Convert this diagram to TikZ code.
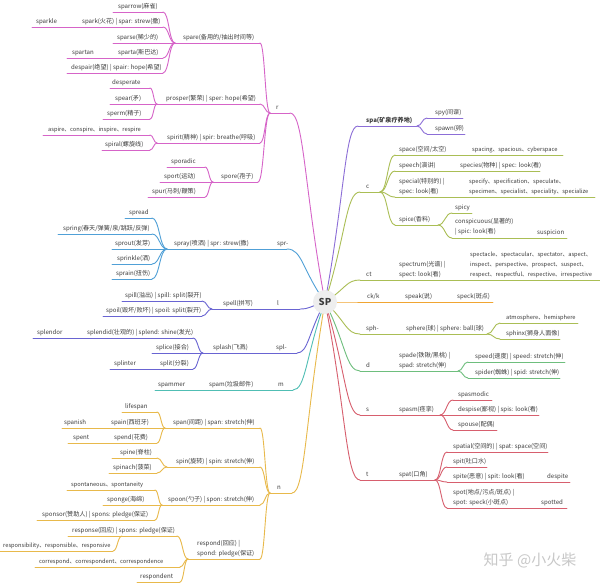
\documentclass[tikz,border=0pt]{standalone}
\usepackage{fontspec}
\setmainfont{Noto Sans CJK SC}
\usetikzlibrary{calc,backgrounds}
\definecolor{pinkc}{RGB}{214,100,200}
\definecolor{purc}{RGB}{140,110,215}
\definecolor{olc}{RGB}{170,190,85}
\definecolor{orc}{RGB}{240,165,50}
\definecolor{grc}{RGB}{110,190,125}
\definecolor{redc}{RGB}{215,95,110}
\definecolor{bluc}{RGB}{80,160,215}
\definecolor{indc}{RGB}{105,100,210}
\definecolor{tealc}{RGB}{80,190,180}
\definecolor{goldc}{RGB}{232,185,75}
\definecolor{txtc}{RGB}{60,60,60}
\definecolor{spfill}{RGB}{238,238,238}
\definecolor{wmc}{RGB}{200,200,200}
\tikzset{
  txt/.style={inner sep=0pt, text=txtc, font=\fontsize{6.1}{10}\selectfont},
  lst/.style={font=\fontsize{5.7}{10}\selectfont},
  mtxt/.style={txt, align=left},
  ln/.style={line width=0.9pt, line cap=round},
  fan/.style={to path={let \p1=(\tikztostart),\p2=(\tikztotarget) in
     .. controls ({0.5*\x1+0.5*\x2},\y1) and ({0.5*\x1+0.5*\x2},\y2) .. (\tikztotarget)}},
  root/.style={to path={let \p1=(\tikztostart),\p2=(\tikztotarget) in
     .. controls ({\x1+0.4*(\x2-\x1)},\y1) and ({\x1+0.4*(\x2-\x1)},{\y1+0.4*(\y2-\y1)}) .. (\tikztotarget)}},
}
% [style], name, x1, x2, y(line), text x, text
\newcommand\nd[7][]{%
  \coordinate (#2-l) at (#3,#5);
  \coordinate (#2-r) at (#4,#5);
  \node[txt, #1, anchor=base west] (#2) at (#6,#5-3.5) {#7};
  \draw[ln] (#2-l) -- (#2-r);
}
\newcommand\ndm[7][]{%
  \coordinate (#2-l) at (#3,#5);
  \coordinate (#2-r) at (#4,#5);
  \node[mtxt, #1, anchor=south west] (#2) at (#6,#5-2.2) {#7};
  \draw[ln] (#2-l) -- (#2-r);
}
\newcommand\fans[2]{\foreach \cc in {#2}{\draw[ln] (#1) to[fan] (\cc);}}
\begin{document}
\begin{tikzpicture}[x=1pt,y=-1pt]
\useasboundingbox (0,0) rectangle (600,583);
\begin{scope}[on background layer]
\fill[white] (0,0) rectangle (600,583);
\end{scope}

\node[circle, fill=spfill, minimum size=24pt, inner sep=0pt, text=txtc,
      font=\bfseries\fontsize{9.5}{10}\selectfont] (sp) at (325,302) {SP};

% ---------- r (pink)
\begin{scope}[color=pinkc]
\nd{r}{270}{290}{113}{276}{r}
\nd{spare}{175}{260}{43}{183}{spare(备用的/抽出时间等)}
\nd{sparrow}{113}{163}{12}{118}{sparrow(麻雀)}
\nd{spark}{78}{163}{27}{82}{spark(火花) | spar: strew(撒)}
\nd{sparkle}{32}{78}{27}{36}{sparkle}
\nd{sparse}{113}{163}{43}{117}{sparse(稀少的)}
\nd{sparta}{113}{163}{58}{118}{sparta(斯巴达)}
\nd{spartan}{67}{113}{58}{72}{spartan}
\nd{despair}{67}{163}{73}{71}{despair(绝望) | spair: hope(希望)}
\nd{prosper}{157}{260}{104}{166}{prosper(繁荣) | sper: hope(希望)}
\nd{desperate}{110}{150}{88}{112}{desperate}
\nd{spear}{110}{150}{104}{115}{spear(矛)}
\nd{sperm}{103}{150}{119}{107}{sperm(精子)}
\nd{spirit}{157}{260}{143}{167}{spirit(精神) | spir: breathe(呼吸)}
\nd[lst]{aspire}{43}{150}{135}{48}{aspire、conspire、inspire、respire}
\nd{spiral}{102}{150}{150}{105}{spiral(螺旋线)}
\nd{spore}{213}{258}{182}{221}{spore(孢子)}
\nd{sporadic}{167}{205}{167}{171}{sporadic}
\nd{sport}{160}{205}{182}{164}{sport(运动)}
\nd{spur}{148}{205}{197}{152}{spur(马刺/鞭策)}
\fans{r-l}{spare-r,prosper-r,spirit-r,spore-r}
\fans{spare-l}{sparrow-r,spark-r,sparse-r,sparta-r,despair-r}
\fans{prosper-l}{desperate-r,spear-r,sperm-r}
\fans{spirit-l}{aspire-r,spiral-r}
\fans{spore-l}{sporadic-r,sport-r,spur-r}
\end{scope}

% ---------- spr- (blue)
\begin{scope}[color=bluc]
\nd{sprm}{265}{287}{249}{277}{spr-}
\nd{spray}{167}{265}{249}{174}{spray(喷洒) | spr: strew(撒)}
\nd{spread}{125}{152}{218}{129}{spread}
\nd{spring}{58}{152}{234}{63}{spring(春天/弹簧/泉/跳跃/反弹)}
\nd{sprout}{112}{152}{249}{115}{sprout(发芽)}
\nd{sprinkle}{112}{152}{264}{117}{sprinkle(洒)}
\nd{sprain}{112}{152}{279}{116}{sprain(扭伤)}
\fans{spray-l}{spread-r,spring-r,sprout-r,sprinkle-r,sprain-r}
\end{scope}

% ---------- l, spl- (indigo)
\begin{scope}[color=indc]
\nd{spell}{212}{262}{309}{223}{spell(拼写)}
\nd{l}{262}{300}{309}{277}{l}
\nd{spill}{122}{202}{301}{125}{spill(溢出) | spill: split(裂开)}
\nd{spoil}{103}{202}{316}{106}{spoil(毁坏/败坏) | spoil: split(裂开)}
\fans{spell-l}{spill-r,spoil-r}
\nd{splash}{203}{262}{353}{213}{splash(飞溅)}
\nd{splm}{262}{297}{353}{276}{spl-}
\nd{splendid}{80}{193}{338}{87}{splendid(壮观的) | splend: shine(发光)}
\nd{splendor}{33}{80}{338}{37}{splendor}
\nd{splice}{152}{193}{353}{156}{splice(接合)}
\nd{split}{150}{193}{369}{160}{split(分裂)}
\nd{splinter}{110}{150}{369}{114}{splinter}
\fans{splash-l}{splendid-r,splice-r,split-r}
\end{scope}

% ---------- m (teal)
\begin{scope}[color=tealc]
\nd{m}{262}{293}{390}{278}{m}
\nd{spam}{200}{262}{390}{209}{spam(垃圾邮件)}
\nd{spammer}{155}{200}{390}{158}{spammer}
\end{scope}

% ---------- n (gold)
\begin{scope}[color=goldc]
\nd{n}{270}{292}{493}{277}{n}
\nd{span}{165}{260}{428}{173}{span(间距) | span: stretch(伸)}
\nd{lifespan}{122}{157}{412}{125}{lifespan}
\nd{spain}{107}{157}{428}{111}{spain(西班牙)}
\nd{spanish}{62}{107}{428}{64}{spanish}
\nd{spend}{110}{157}{443}{114}{spend(花费)}
\nd{spent}{68}{110}{443}{73}{spent}
\nd{spin}{167}{260}{467}{176}{spin(旋转) | spin: stretch(伸)}
\nd{spine}{112}{157}{458}{120}{spine(脊柱)}
\nd{spinach}{109}{157}{473}{113}{spinach(菠菜)}
\nd{spoon}{162}{260}{505}{168}{spoon(勺子) | spon: stretch(伸)}
\nd[lst]{spontaneous}{67}{155}{490}{71}{spontaneous、spontaneity}
\nd{sponge}{103}{155}{505}{107}{sponge(海绵)}
\nd{sponsor}{37}{155}{520}{42}{sponsor(赞助人) | spons: pledge(保证)}
\ndm{respond}{188}{260}{559}{197}{respond(回应) |\\spond: pledge(保证)}
\nd{response}{68}{177}{536}{72}{response(回应) | spons: pledge(保证)}
\coordinate (respj) at (122,536);
\nd[lst]{responsibility}{0}{113}{551}{3}{responsibility、responsible、responsive}
\nd[lst]{correspond}{35}{180}{567}{39}{correspond、correspondent、correspondence}
\nd{respondent}{137}{180}{582}{140}{respondent}
\fans{n-l}{span-r,spin-r,spoon-r,respond-r}
\fans{span-l}{lifespan-r,spain-r,spend-r}
\fans{spin-l}{spine-r,spinach-r}
\fans{spoon-l}{spontaneous-r,sponge-r,sponsor-r}
\fans{respond-l}{response-r,correspond-r,respondent-r}
\fans{respj}{responsibility-r}
\end{scope}

% ---------- spa (purple)
\begin{scope}[color=purc]
\nd{spa}{358}{417}{126}{366}{\bfseries spa(矿泉疗养地)}
\nd{spy}{427}{463}{118}{435}{spy(间谍)}
\nd{spawn}{427}{465}{134}{435}{spawn(卵)}
\fans{spa-r}{spy-l,spawn-l}
\end{scope}

% ---------- c, ct, sph- (olive)
\begin{scope}[color=olc]
\nd{c}{360}{380}{192}{366}{c}
\nd{space}{395}{468}{155}{399}{space(空间/太空)}
\nd[lst]{spacing}{468}{563}{155}{472}{spacing、spacious、cyberspace}
\nd{speech}{395}{456}{171}{399}{speech(演讲)}
\nd{species}{456}{540}{171}{460}{species(物种) | spec: look(看)}
\ndm{special}{395}{465}{197}{399}{special(特别的) |\\spec: look(看)}
\ndm[lst]{specify}{465}{595}{197}{469}{specify、specification、speculate、\\specimen、specialist、speciality、specialize}
\nd{spice}{395}{438}{225}{399}{spice(香料)}
\nd{spicy}{452}{472}{213}{455}{spicy}
\ndm{conspicuous}{452}{533}{238}{455}{conspicuous(显著的)\\| spic: look(看)}
\nd{suspicion}{533}{567}{238}{537}{suspicion}
\fans{c-r}{space-l,speech-l,special-l,spice-l}
\fans{spice-r}{spicy-l,conspicuous-l}
\nd{ct}{360}{395}{280}{366}{ct}
\ndm{spectrum}{395}{466}{280}{399}{spectrum(光谱) |\\spect: look(看)}
\ndm[lst]{spectacle}{466}{600}{280}{470}{spectacle、spectacular、spectator、aspect、\\inspect、perspective、prospect、suspect、\\respect、respectful、respective、irrespective}
\nd{sph}{360}{400}{334}{366}{sph-}
\nd{sphere}{400}{487}{334}{406}{sphere(球) | sphere: ball(球)}
\nd[lst]{atmosphere}{500}{578}{323}{506}{atmosphere、hemisphere}
\nd{sphinx}{500}{560}{339}{506}{sphinx(狮身人面像)}
\fans{sphere-r}{atmosphere-l,sphinx-l}
\end{scope}

% ---------- ck/k (orange)
\begin{scope}[color=orc]
\nd{ck}{360}{400}{302}{367}{ck/k}
\nd{speak}{400}{452}{302}{405}{speak(说)}
\nd{speck}{452}{493}{302}{457}{speck(斑点)}
\end{scope}

% ---------- d (green)
\begin{scope}[color=grc]
\nd{d}{360}{395}{371}{366}{d}
\ndm{spade}{395}{458}{371}{399}{spade(铁锹/黑桃) |\\spad: stretch(伸)}
\nd{speed}{468}{565}{362}{475}{speed(速度) | speed: stretch(伸)}
\nd{spider}{468}{560}{378}{475}{spider(蜘蛛) | spid: stretch(伸)}
\fans{spade-r}{speed-l,spider-l}
\end{scope}

% ---------- s, t (red)
\begin{scope}[color=redc]
\nd{s}{360}{395}{415}{366}{s}
\nd{spasm}{395}{440}{415}{399}{spasm(痉挛)}
\nd{spasmodic}{453}{492}{400}{458}{spasmodic}
\nd{despise}{453}{539}{415}{458}{despise(鄙视) | spis: look(看)}
\nd{spouse}{453}{497}{430}{458}{spouse(配偶)}
\fans{spasm-r}{spasmodic-l,despise-l,spouse-l}
\nd{t}{360}{395}{480}{366}{t}
\nd{spat}{395}{435}{480}{399}{spat(口角)}
\nd{spatial}{447}{548}{452}{453}{spatial(空间的) | spat: space(空间)}
\nd{spit}{447}{487}{467}{453}{spit(吐口水)}
\nd{spite}{447}{543}{482}{453}{spite(恶意) | spit: look(看)}
\nd{despite}{543}{570}{482}{547}{despite}
\ndm{spot}{447}{537}{508}{453}{spot(地点/污点/斑点) |\\spot: speck(小斑点)}
\nd{spotted}{537}{567}{508}{541}{spotted}
\fans{spat-r}{spatial-l,spit-l,spite-l,spot-l}
\end{scope}

% ---------- main branches from SP
\begin{scope}[on background layer]
\draw[ln,pinkc] (r-r) to[root] (sp.center);
\draw[ln,bluc] (sprm-r) to[root] (sp.center);
\draw[ln,indc] (l-r) to[root] (sp.center);
\draw[ln,indc] (splm-r) to[root] (sp.center);
\draw[ln,tealc] (m-r) to[root] (sp.center);
\draw[ln,goldc] (n-r) to[root] (sp.center);
\draw[ln,purc] (spa-l) to[root] (sp.center);
\draw[ln,olc] (c-l) to[root] (sp.center);
\draw[ln,olc] (ct-l) to[root] (sp.center);
\draw[ln,orc] (ck-l) to[root] (sp.center);
\draw[ln,olc] (sph-l) to[root] (sp.center);
\draw[ln,grc] (d-l) to[root] (sp.center);
\draw[ln,redc] (s-l) to[root] (sp.center);
\draw[ln,redc] (t-l) to[root] (sp.center);
\end{scope}

\node[text=wmc, inner sep=0pt, font=\fontsize{15}{15}\selectfont] (wm) at (530,560) {知乎 @小火柴};
\end{tikzpicture}
\end{document}
